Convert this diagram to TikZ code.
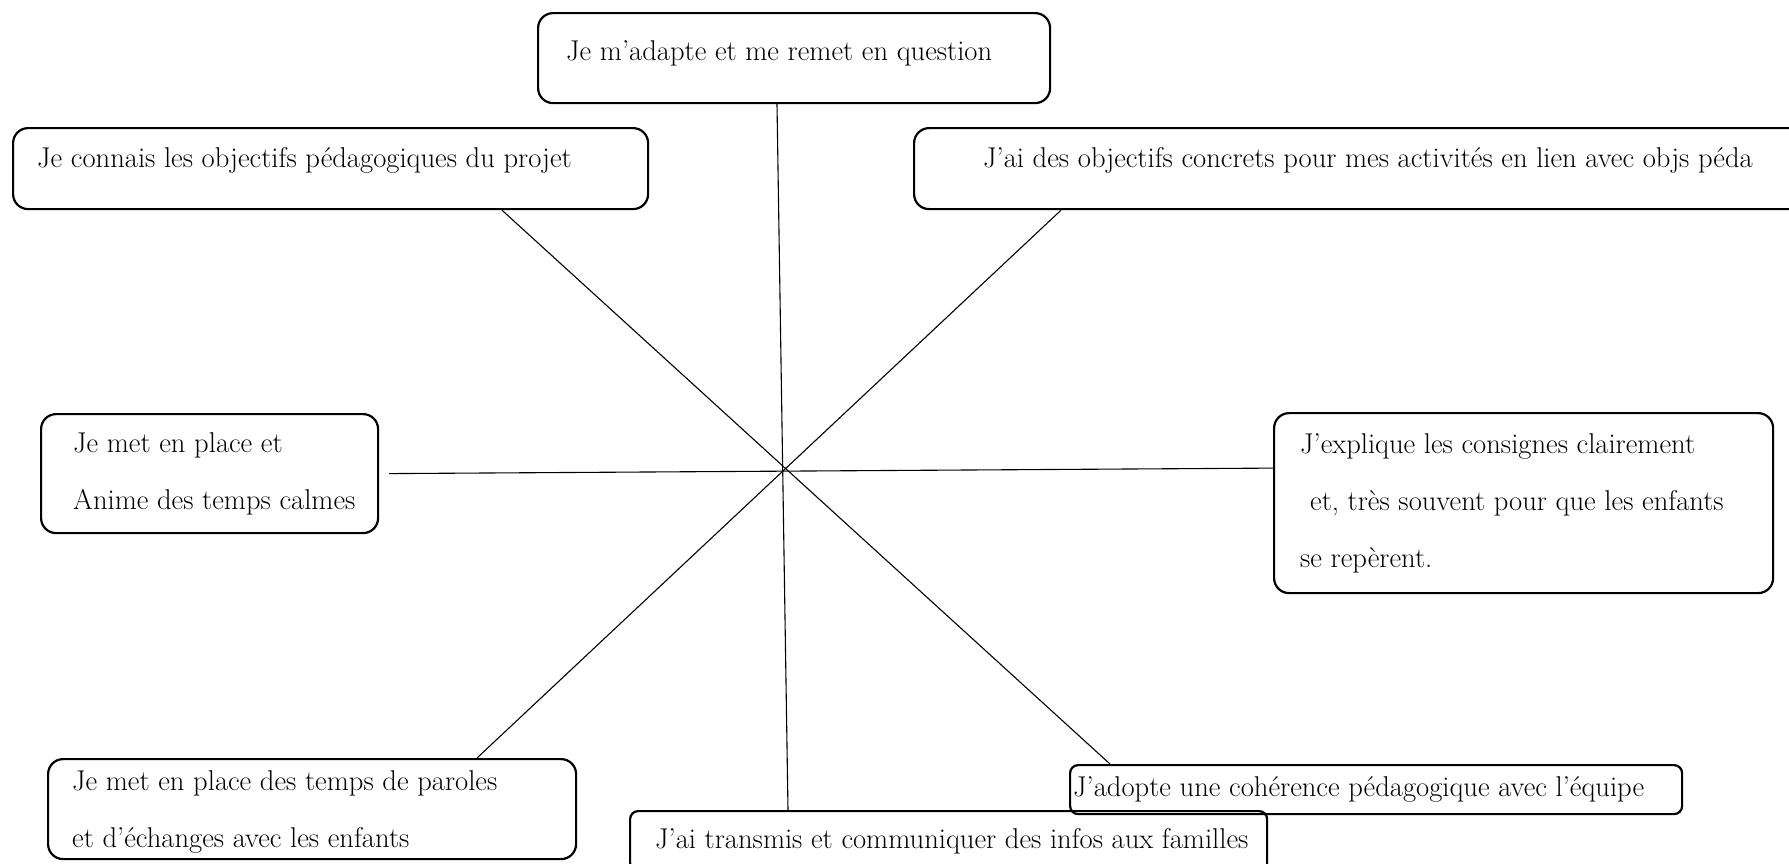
\documentclass[tikz,border=0pt]{standalone}
\usepackage{tikz}
\usetikzlibrary{positioning}

\tikzset{
    box/.style={draw, line width=2.2pt, rounded corners=15pt, anchor=north west, inner sep=0pt},
    smallbox/.style={box, rounded corners=8pt},
    txt/.style={inner sep=0pt, align=left, font=\fontsize{28.6}{57}\selectfont},
    link/.style={line width=1.1pt}
}

\begin{document}
\begin{tikzpicture}[x=1pt, y=-1pt]
    \clip (0,0) rectangle (1789,863);
    % Boxes
    \node [box, minimum width=512pt, minimum height=90pt] (adapte) at (537,12) {};
    \node [box, minimum width=635pt, minimum height=81pt] (connais) at (12,127) {};
    \node [box, minimum width=900pt, minimum height=81pt] (concrets) at (913,127) {};
    \node [box, minimum width=337pt, minimum height=119pt] (calme) at (40,413) {};
    \node [box, minimum width=499pt, minimum height=180pt] (consignes) at (1273,412) {};
    \node [box, minimum width=528pt, minimum height=100pt] (paroles) at (47,758) {};
    \node [smallbox, minimum width=612pt, minimum height=49pt] (equipe) at (1069,764) {};
    \node [smallbox, minimum width=637pt, minimum height=60pt] (familles) at (629,810) {};
    % Lines
    \draw [link] ([xshift=240pt]adapte.south west) -- ([xshift=159pt]familles.north west);
    \draw [link] ([xshift=490pt]connais.south west) -- ([xshift=41pt]equipe.north west);
    \draw [link] ([xshift=148pt]concrets.south west) -- ([xshift=430pt]paroles.north west);
    \draw [link] ([xshift=10pt]calme.east) -- ([yshift=35pt]consignes.west);
    % Labels
    \node [txt, right=29pt of adapte.west, yshift=5pt] (adapte-t) {Je m'adapte et me remet en question};
    \node [txt, right=25pt of connais.west, yshift=8pt] (connais-t) {Je connais les objectifs pédagogiques du projet};
    \node [txt, right=70pt of concrets.west, yshift=8pt] (concrets-t) {J'ai des objectifs concrets pour mes activités en lien avec objs péda};
    \node [txt, right=33pt of calme.west] (calme-t) {Je met en place et\\Anime des temps calmes};
    \node [txt, right=27pt of consignes.west] (consignes-t) {J'explique les consignes clairement\\\hspace*{0.35em}et, très souvent pour que les enfants\\se repèrent.};
    \node [txt, right=25pt of paroles.west, yshift=-3pt] (paroles-t) {Je met en place des temps de paroles\\et d'échanges avec les enfants};
    \node [txt, right=4pt of equipe.west] (equipe-t) {J'adopte une cohérence pédagogique avec l'équipe};
    \node [txt, right=26pt of familles.west] (familles-t) {J'ai transmis et communiquer des infos aux familles};
\end{tikzpicture}
\end{document}
